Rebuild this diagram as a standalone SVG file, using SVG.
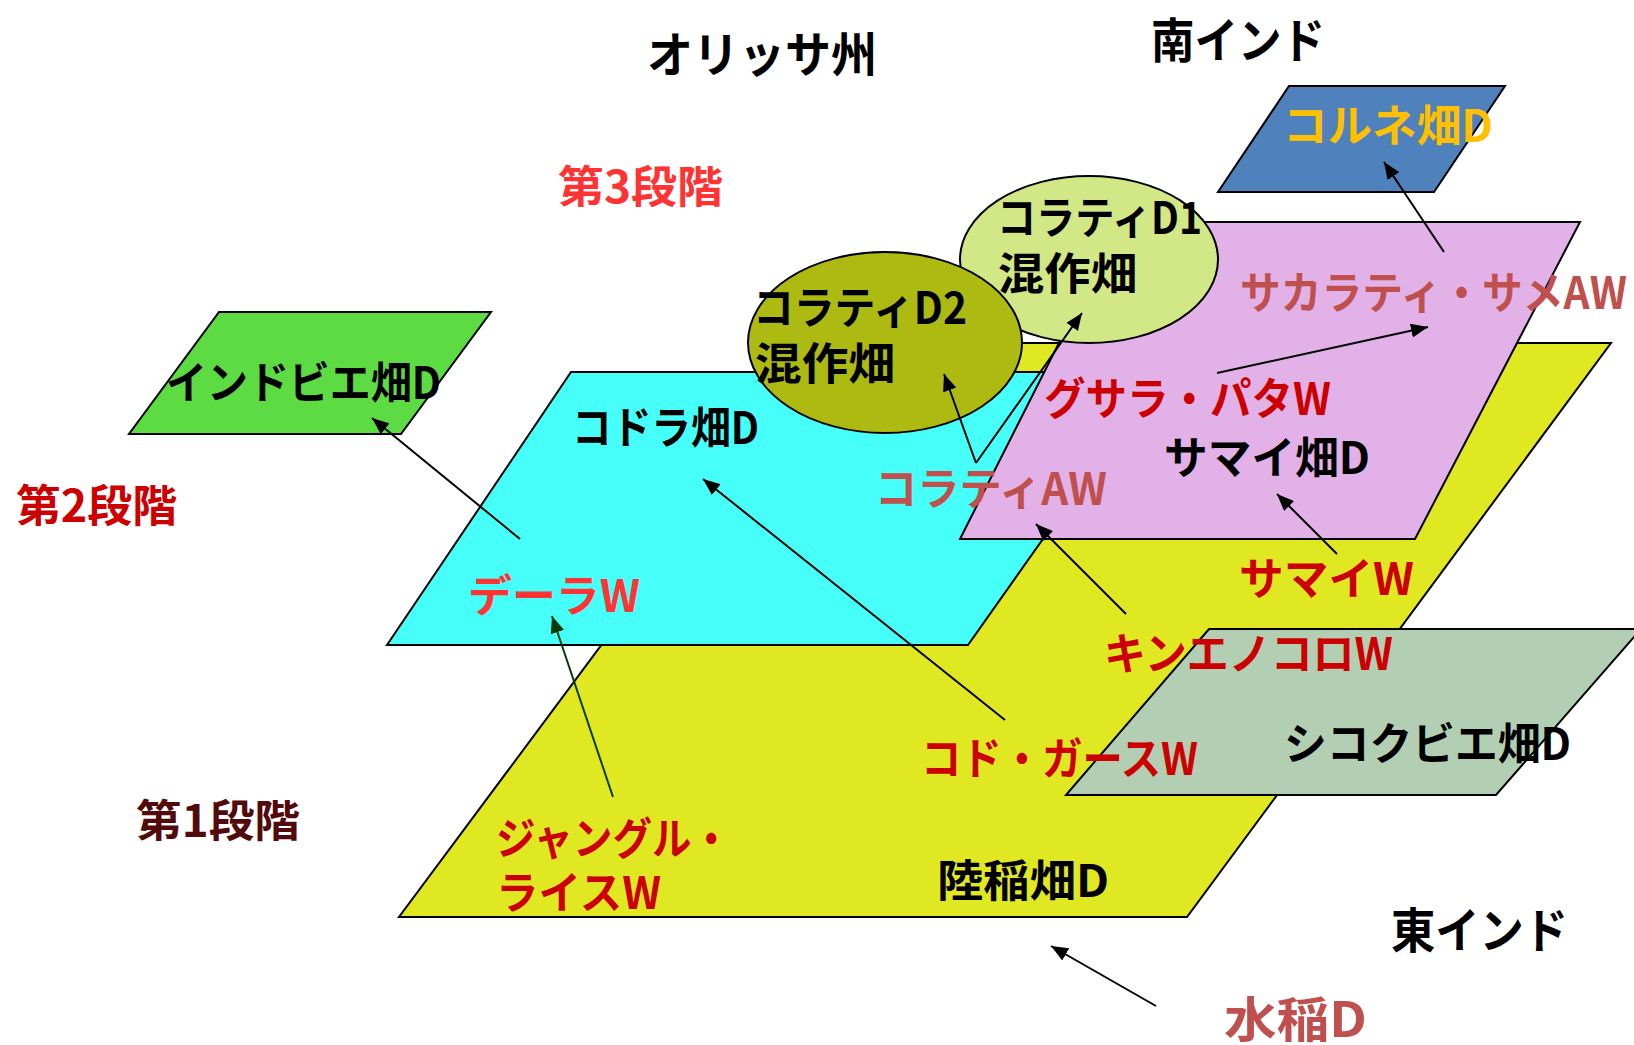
<svg xmlns="http://www.w3.org/2000/svg" width="1634" height="1045" viewBox="0 0 1634 1045">
<defs>
<style>
.shape{stroke:#000;stroke-width:2;stroke-linejoin:miter}
.t{font-family:"Noto Sans CJK JP","Noto Sans CJK SC",sans-serif;font-weight:bold;font-size:44px}
.big{font-size:48px}
.blk{fill:#000}
.red{fill:#CC0000}
.bright{fill:#FF3333}
.rose{fill:#C0504D}
.brown{fill:#520A0A}
.orange{fill:#FFC000}
.conn{stroke:#000;stroke-width:2;fill:none;marker-end:url(#ah)}
.conng{stroke:#0A3A0A;stroke-width:2;fill:none;marker-end:url(#ahg)}
</style>
<marker id="ah" markerUnits="userSpaceOnUse" markerWidth="18" markerHeight="14" refX="17" refY="7" orient="auto">
<path d="M0,0 L17,7 L0,14 z" fill="#000"/>
</marker>
<marker id="ahg" markerUnits="userSpaceOnUse" markerWidth="18" markerHeight="14" refX="17" refY="7" orient="auto">
<path d="M0,0 L17,7 L0,14 z" fill="#0A3A0A"/>
</marker>
</defs>
<rect width="1634" height="1045" fill="#fff"/>

<g id="titles">
<text class="t big blk" x="647" y="72" textLength="230" lengthAdjust="spacingAndGlyphs">オリッサ州</text>
<text class="t big blk" x="1151" y="58" textLength="174" lengthAdjust="spacingAndGlyphs">南インド</text>
<text class="t big blk" x="1391" y="948" textLength="177" lengthAdjust="spacingAndGlyphs">東インド</text>
<text class="t bright" x="558" y="203" textLength="165" lengthAdjust="spacingAndGlyphs">第3段階</text>
<text class="t red" x="16" y="522" textLength="161" lengthAdjust="spacingAndGlyphs">第2段階</text>
<text class="t brown" x="136" y="837" textLength="164" lengthAdjust="spacingAndGlyphs">第1段階</text>
</g>

<g id="rikuto">
<polygon class="shape" points="826,343 1611,343 1187,917 399,917" fill="#E0E821"/>
<text class="t blk" x="937" y="897" textLength="172" lengthAdjust="spacingAndGlyphs">陸稲畑D</text>
</g>

<g id="kodora">
<polygon class="shape" points="571,372 1161,372 968,645 387,645" fill="#47FFF9"/>
<text class="t blk" x="572" y="444" textLength="187" lengthAdjust="spacingAndGlyphs">コドラ畑D</text>
</g>

<g id="samai">
<polygon class="shape" points="1120,222 1580,222 1415,539 960,539" fill="#E1B1E8"/>
<text class="t blk" x="1164" y="474" textLength="206" lengthAdjust="spacingAndGlyphs">サマイ畑D</text>
</g>

<g id="shikokubie">
<polygon class="shape" points="1209,629 1641,629 1496,795 1066,795" fill="#B2CFB4"/>
<text class="t blk" x="1284" y="760" textLength="287" lengthAdjust="spacingAndGlyphs">シコクビエ畑D</text>
</g>

<g id="korune">
<polygon class="shape" points="1289,86 1505,86 1434,192 1218,192" fill="#4F81BD"/>
<text class="t orange" x="1283" y="142" textLength="210" lengthAdjust="spacingAndGlyphs">コルネ畑D</text>
</g>

<g id="indobie">
<polygon class="shape" points="219,312 491,312 401,434 129,434" fill="#5CDB42"/>
<text class="t blk" x="166" y="399" textLength="275" lengthAdjust="spacingAndGlyphs">インドビエ畑D</text>
</g>

<g id="koratiD1">
<ellipse class="shape" cx="1089" cy="259.5" rx="129" ry="83.5" fill="#D2E886"/>
<text class="t blk" x="997" y="234" textLength="205" lengthAdjust="spacingAndGlyphs">コラティD1</text>
<text class="t blk" x="998" y="290" textLength="139" lengthAdjust="spacingAndGlyphs">混作畑</text>
</g>

<g id="koratiD2">
<ellipse class="shape" cx="885" cy="342.5" rx="137" ry="90.5" fill="#ADBA12"/>
<text class="t blk" x="753" y="324" textLength="214" lengthAdjust="spacingAndGlyphs">コラティD2</text>
<text class="t blk" x="755" y="380" textLength="140" lengthAdjust="spacingAndGlyphs">混作畑</text>
</g>

<g id="connectors">
<line class="conn" x1="520" y1="539" x2="372" y2="418"/>
<line class="conn" x1="1005" y1="720" x2="703" y2="479"/>
<line class="conng" x1="613" y1="797" x2="552" y2="616"/>
<line class="conn" x1="976" y1="463" x2="944" y2="374"/>
<line class="conn" x1="976" y1="463" x2="1082" y2="313"/>
<line class="conn" x1="1217" y1="373" x2="1428" y2="327"/>
<line class="conn" x1="1444" y1="252" x2="1384" y2="162"/>
<line class="conn" x1="1337" y1="554" x2="1277" y2="494"/>
<line class="conn" x1="1126" y1="614" x2="1036" y2="524"/>
<line class="conn" x1="1156" y1="1006" x2="1051" y2="946"/>
</g>

<g id="sakarati"><text class="t rose" x="1240" y="309" textLength="387" lengthAdjust="spacingAndGlyphs">サカラティ・サメAW</text></g>
<g id="gusara"><text class="t red" x="1044" y="415" textLength="287" lengthAdjust="spacingAndGlyphs">グサラ・パタW</text></g>
<g id="koratiAW"><text class="t rose" x="875" y="505" textLength="232" lengthAdjust="spacingAndGlyphs">コラティAW</text></g>
<g id="dera"><text class="t bright" x="468" y="612" textLength="172" lengthAdjust="spacingAndGlyphs">デーラW</text></g>
<g id="samaiW"><text class="t red" x="1239" y="595" textLength="175" lengthAdjust="spacingAndGlyphs">サマイW</text></g>
<g id="kinenokoro"><text class="t red" x="1104" y="670" textLength="289" lengthAdjust="spacingAndGlyphs">キンエノコロW</text></g>
<g id="kodogasu"><text class="t red" x="921" y="775" textLength="277" lengthAdjust="spacingAndGlyphs">コド・ガースW</text></g>
<g id="jungle">
<text class="t red" x="496" y="855" textLength="235" lengthAdjust="spacingAndGlyphs">ジャングル・</text>
<text class="t red" x="496" y="909" textLength="165" lengthAdjust="spacingAndGlyphs">ライスW</text>
</g>
<g id="suito"><text class="t big rose" x="1224" y="1037" textLength="143" lengthAdjust="spacingAndGlyphs">水稲D</text></g>
</svg>
